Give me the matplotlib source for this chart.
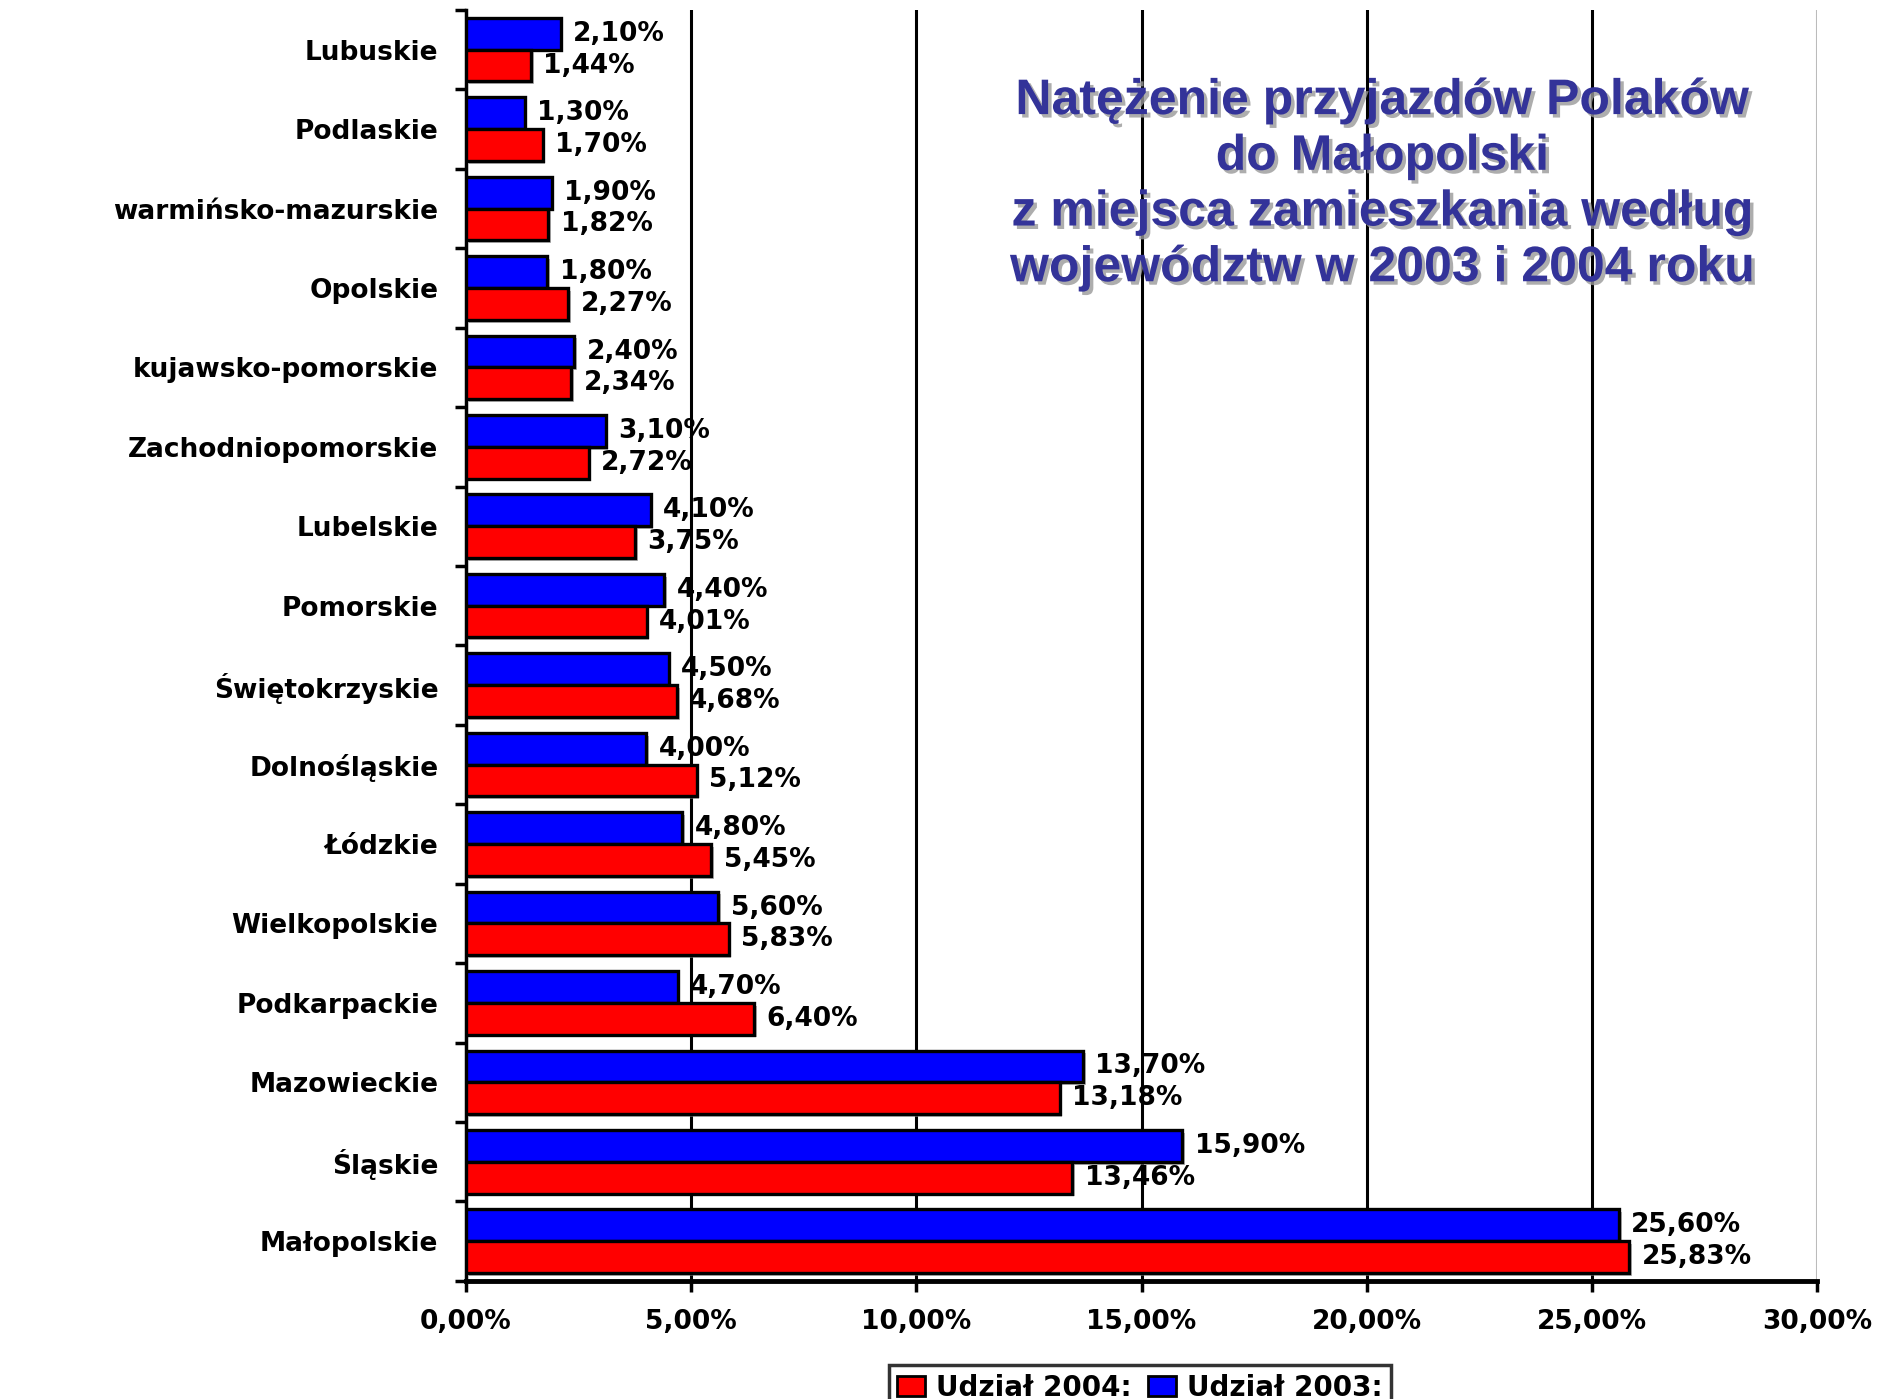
import matplotlib
matplotlib.use("Agg")
import matplotlib.pyplot as plt
import matplotlib.patheffects as pe
from matplotlib.patches import Patch
from matplotlib.ticker import FixedLocator, FuncFormatter
import numpy as np

# Data (bottom to top)
regions = ["Małopolskie", "Śląskie", "Mazowieckie", "Podkarpackie", "Wielkopolskie",
           "Łódzkie", "Dolnośląskie", "Świętokrzyskie", "Pomorskie", "Lubelskie",
           "Zachodniopomorskie", "kujawsko-pomorskie", "Opolskie",
           "warmińsko-mazurskie", "Podlaskie", "Lubuskie"]
share_2004 = [25.83, 13.46, 13.18, 6.40, 5.83, 5.45, 5.12, 4.68, 4.01, 3.75,
              2.72, 2.34, 2.27, 1.82, 1.70, 1.44]
share_2003 = [25.60, 15.90, 13.70, 4.70, 5.60, 4.80, 4.00, 4.50, 4.40, 4.10,
              3.10, 2.40, 1.80, 1.90, 1.30, 2.10]
x_ticks = [0, 5, 10, 15, 20, 25, 30]
title = "Natężenie przyjazdów Polaków\ndo Małopolski\nz miejsca zamieszkania według\nwojewództw w 2003 i 2004 roku"

RED = "#ff0000"
BLUE = "#0000ff"
TITLE_COLOR = "#333399"
FS = 19

fig = plt.figure(figsize=(19, 13.99), dpi=100)
ax = fig.add_axes([0.2453, 0.0844, 0.9563 - 0.2453, 0.9929 - 0.0844])

y = np.arange(len(regions))
h = 0.4
shadow = [pe.SimplePatchShadow(offset=(2, -2), shadow_rgbFace="#888888", alpha=0.6), pe.Normal()]
b1 = ax.barh(y + 0.2, share_2003, height=h, color=BLUE, edgecolor="black", linewidth=2.4, zorder=3)
b2 = ax.barh(y - 0.2, share_2004, height=h, color=RED, edgecolor="black", linewidth=2.4, zorder=3)
for p in list(b1) + list(b2):
    p.set_path_effects(shadow)

def fmt(v):
    return f"{v:.2f}%".replace(".", ",")

lab_font = dict(fontsize=FS, fontweight="bold", family="DejaVu Sans", color="black")
for yi, v in zip(y, share_2003):
    ax.annotate(fmt(v), (v, yi + 0.2), xytext=(9, 0), textcoords="offset points",
                va="center", ha="left", zorder=5, **lab_font)
for yi, v in zip(y, share_2004):
    ax.annotate(fmt(v), (v, yi - 0.2), xytext=(9, 0), textcoords="offset points",
                va="center", ha="left", zorder=5, **lab_font)

ax.set_xlim(0, 30)
ax.set_ylim(-0.5, len(regions) - 0.5)

# grid
for xv in x_ticks[1:-1]:
    ax.axvline(xv, color="black", linewidth=2.2, zorder=1)
ax.axvline(30, color="#bbbbbb", linewidth=1.5, zorder=1)

ax.set_xticks(x_ticks)
ax.xaxis.set_major_formatter(FuncFormatter(lambda v, p: fmt(v)))
ax.set_yticks(y)
ax.set_yticklabels(regions)
ax.yaxis.set_minor_locator(FixedLocator(np.arange(-0.5, len(regions), 1.0)))
ax.tick_params(axis="y", which="major", length=0, pad=20)
ax.tick_params(axis="y", which="minor", length=8, width=2.5, direction="out")
ax.tick_params(axis="x", which="major", length=8, width=2.5, direction="out", pad=12)

for lbl in ax.get_yticklabels():
    lbl.set_fontsize(FS)
    lbl.set_fontweight("bold")
for lbl in ax.get_xticklabels():
    lbl.set_fontsize(FS)
    lbl.set_fontweight("bold")

for s in ["top", "right"]:
    ax.spines[s].set_visible(False)
ax.spines["left"].set_linewidth(2.5)
ax.spines["bottom"].set_linewidth(3.5)

fig.text(0.7276, 0.868, title, ha="center", va="center", fontsize=36, fontweight="bold",
         family=["Liberation Sans Narrow", "Liberation Sans"], color=TITLE_COLOR,
         linespacing=1.27,
         path_effects=[pe.SimplePatchShadow(offset=(2.5, -2.5), shadow_rgbFace="#999999", alpha=0.8),
                       pe.Normal()])

handles = [Patch(facecolor=RED, edgecolor="black", linewidth=2),
           Patch(facecolor=BLUE, edgecolor="black", linewidth=2)]
leg = fig.legend(handles, ["Udział 2004:", "Udział 2003:"], loc="upper center",
                 bbox_to_anchor=(0.600, 0.034), ncol=2, frameon=True, fancybox=False,
                 prop=dict(size=20, weight="bold"), handlelength=1.0, handleheight=0.7,
                 columnspacing=0.6, handletextpad=0.4, borderpad=0.3)
leg.get_frame().set_edgecolor("black")
leg.get_frame().set_linewidth(2.5)

fig.savefig("out.png", dpi=100)
